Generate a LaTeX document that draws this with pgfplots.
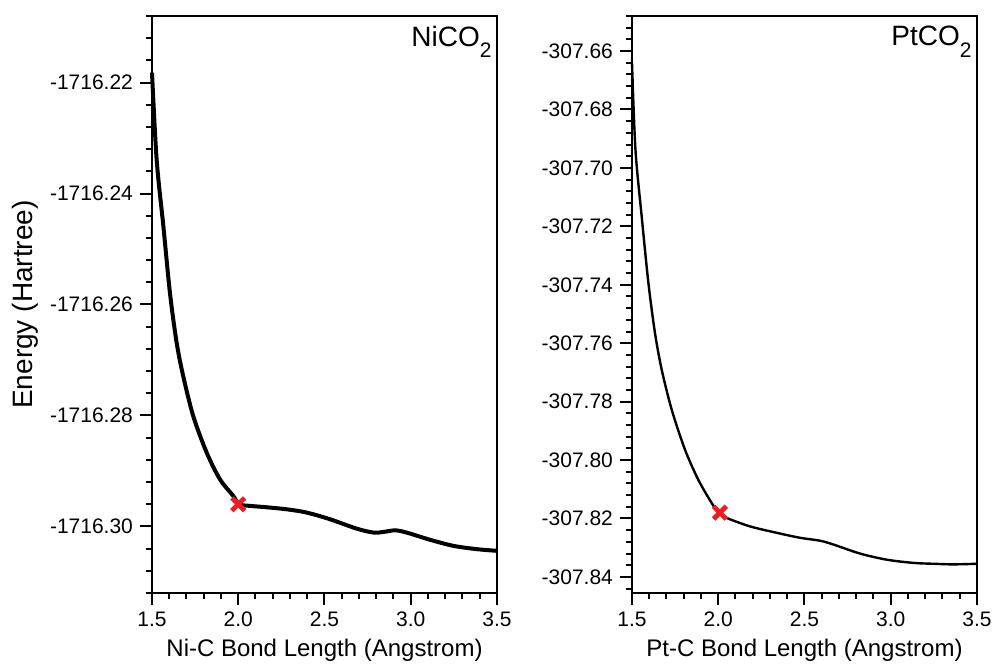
\documentclass[border=0pt]{standalone}
\usepackage{pgfplots}
\pgfplotsset{compat=1.18}
\usepackage{fontspec}
\setmainfont{Liberation Sans}
\definecolor{xred}{RGB}{237,28,36}

\pgfplotsset{
  pes axis/.style={
      scale only axis,
      width=172.5pt,
      height=288.5pt,
      xmin=1.5,
      xmax=3.5,
      xtick={1.5,2,2.5,3,3.5},
      minor x tick num=4,
      minor y tick num=4,
      xtick pos=bottom,
      ytick pos=left,
      tick align=outside,
      major tick length=6pt,
      minor tick length=3pt,
      axis line style={line width=1pt},
      tick style={line width=1pt,black},
      /pgf/number format/assume math mode=true,
      tick label style={font=\fontsize{10.5}{12}\selectfont},
      xticklabel style={/pgf/number format/.cd,fixed,fixed zerofill,precision=1},
      yticklabel style={/pgf/number format/.cd,fixed,fixed zerofill,precision=2,1000 sep={}},
      label style={font=\fontsize{12}{14}\selectfont},
      xlabel style={at={(axis description cs:0.5,0)},anchor=north,inner sep=0pt,yshift=-23pt},
      clip=false,
    }
}

\begin{document}
\begin{tikzpicture}
  \path[use as bounding box] (-76pt,-36pt) rectangle (420.5pt,296.5pt);

  % ------------------------------------------------------------------
  % NiCO2
  % ------------------------------------------------------------------
  \begin{axis}[
      pes axis,
      ymin=-1716.312,
      ymax=-1716.208,
      ytick={-1716.32,-1716.30,-1716.28,-1716.26,-1716.24,-1716.22,-1716.20},
      xlabel={Ni-C Bond Length (Angstrom)},
      ylabel={Energy (Hartree)},
      ylabel style={at={(axis description cs:-0.368,0.5)},anchor=center,
          font=\fontsize{14}{16}\selectfont},
    ]
    \addplot[black, line width=2pt, smooth, tension=0.5] table {
      1.500 -1716.2182
      1.527 -1716.2339
      1.566 -1716.2459
      1.604 -1716.2579
      1.643 -1716.2669
      1.681 -1716.2729
      1.739 -1716.2801
      1.817 -1716.2867
      1.894 -1716.2915
      1.971 -1716.2945
      2.006 -1716.2960
      2.068 -1716.2963
      2.145 -1716.2965
      2.280 -1716.2969
      2.397 -1716.2975
      2.532 -1716.2987
      2.687 -1716.3004
      2.783 -1716.3011
      2.841 -1716.3010
      2.909 -1716.3007
      2.976 -1716.3011
      3.111 -1716.3024
      3.247 -1716.3035
      3.382 -1716.3041
      3.500 -1716.3044
    };
    \addplot[only marks, mark=x, mark size=4.5pt,
      mark options={xred, line width=2.4pt}] coordinates {(2.0,-1716.296)};
    \node[anchor=north east, inner sep=0pt, font=\fontsize{14}{16}\selectfont]
      at (rel axis cs:1,1) [xshift=-2.5pt, yshift=-5pt]
      {NiCO\raisebox{-0.4em}{\fontsize{10.5}{10}\selectfont 2}};
  \end{axis}

  % ------------------------------------------------------------------
  % PtCO2
  % ------------------------------------------------------------------
  \begin{axis}[
      pes axis,
      at={(240pt,0pt)},
      ymin=-307.8455,
      ymax=-307.648,
      ytick={-307.86,-307.84,-307.82,-307.80,-307.78,-307.76,-307.74,-307.72,-307.70,-307.68,-307.66,-307.64},
      xlabel={Pt-C Bond Length (Angstrom)},
    ]
    \addplot[black, line width=1.2pt, smooth, tension=0.5] table {
      1.500 -307.6640
      1.520 -307.6937
      1.556 -307.7165
      1.595 -307.7393
      1.633 -307.7564
      1.672 -307.7690
      1.730 -307.7827
      1.807 -307.7964
      1.884 -307.8067
      1.962 -307.8147
      2.004 -307.8181
      2.049 -307.8198
      2.184 -307.8227
      2.339 -307.8249
      2.474 -307.8266
      2.590 -307.8276
      2.667 -307.8289
      2.822 -307.8320
      2.977 -307.8341
      3.132 -307.8352
      3.248 -307.8355
      3.363 -307.8357
      3.500 -307.8355
    };
    \addplot[only marks, mark=x, mark size=4.5pt,
      mark options={xred, line width=2.4pt}] coordinates {(2.01,-307.818)};
    \node[anchor=north east, inner sep=0pt, font=\fontsize{14}{16}\selectfont]
      at (rel axis cs:1,1) [xshift=-2.5pt, yshift=-5pt]
      {PtCO\raisebox{-0.4em}{\fontsize{10.5}{10}\selectfont 2}};
  \end{axis}
\end{tikzpicture}
\end{document}
